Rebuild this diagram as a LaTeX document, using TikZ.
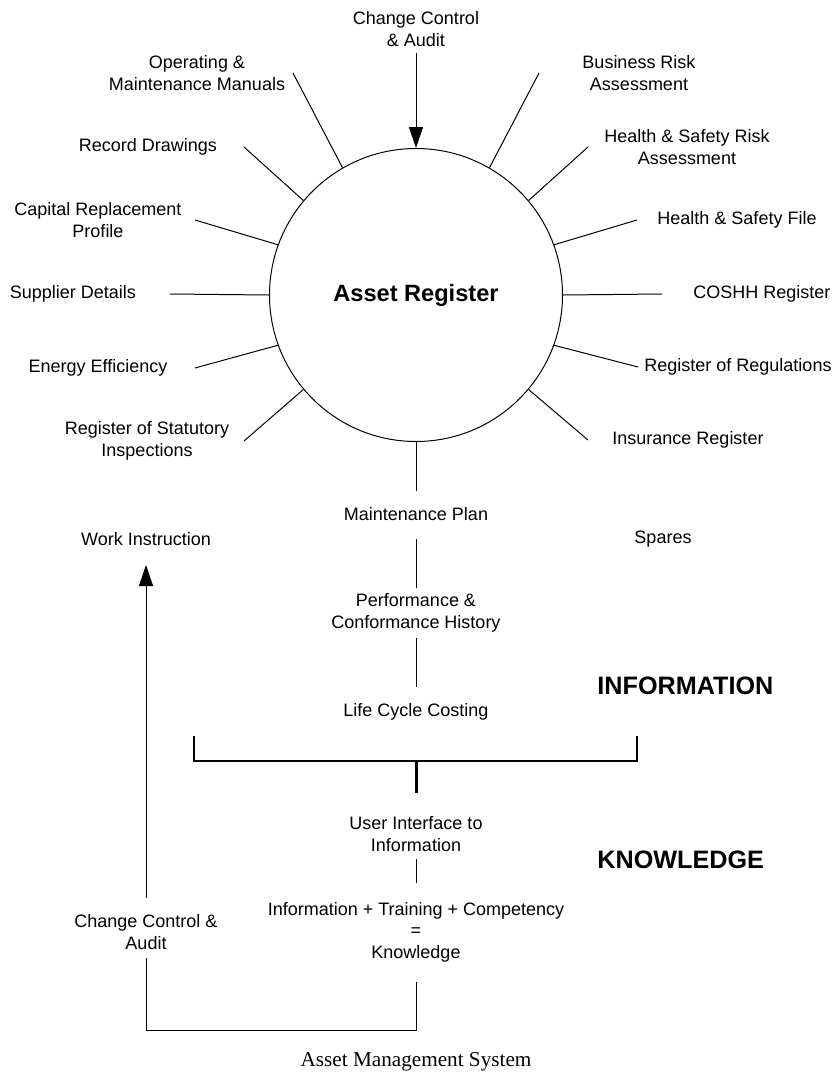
\documentclass[tikz,border=0pt]{standalone}
\usepackage{fontspec}
\setmainfont{Liberation Sans}
\newfontfamily\capfont{Liberation Serif}
\usetikzlibrary{arrows.meta}

\begin{document}
\begin{tikzpicture}[x=0.5pt,y=-0.5pt,
  lbl/.style={align=center,inner sep=0pt,font=\fontsize{9}{10.8}\selectfont},
  head/.style={anchor=west,inner sep=0pt,font=\fontsize{12.6}{14}\selectfont\bfseries},
  spoke/.style={line width=0.5pt},
  tip/.style={-{Triangle[width=7pt,length=10.5pt]}}]
\useasboundingbox (0,0) rectangle (832,1072);

\node[circle,draw,line width=0.5pt,minimum size=146.5pt,inner sep=0pt,
  font=\fontsize{11.8}{14}\selectfont\bfseries] (reg) at (416,295) {Asset Register};

\node[lbl] (cc) at (416,29) {Change Control\\\& Audit};

% left side
\node[lbl] (om) at (197,73) {Operating \&\\Maintenance Manuals};
\node[lbl] (rd) at (148,147) {Record Drawings};
\node[lbl] (crp) at (98,220) {Capital Replacement\\Profile};
\node[lbl] (sd) at (73,294) {Supplier Details};
\node[lbl] (ee) at (98,368) {Energy Efficiency};
\node[lbl] (rsi) at (147,441) {Register of Statutory\\Inspections};

% right side
\node[lbl] (bra) at (639,73) {Business Risk\\Assessment};
\node[lbl] (hsra) at (687,147) {Health \& Safety Risk\\Assessment};
\node[lbl] (hsf) at (737,220) {Health \& Safety File};
\node[lbl] (coshh) at (762,294) {COSHH Register};
\node[lbl] (ror) at (738,367) {Register of Regulations};
\node[lbl] (ir) at (688,440) {Insurance Register};

\coordinate (om-e) at (293,73);
\coordinate (rd-e) at (244,147);
\coordinate (crp-e) at (195,220);
\coordinate (sd-e) at (170,294);
\coordinate (ee-e) at (195,368);
\coordinate (rsi-e) at (244,441);
\coordinate (bra-e) at (539,73);
\coordinate (hsra-e) at (588,147);
\coordinate (hsf-e) at (637,220);
\coordinate (coshh-e) at (662,294);
\coordinate (ror-e) at (638,367);
\coordinate (ir-e) at (588,440);

\foreach \a/\e in {120/om-e,140/rd-e,160/crp-e,180/sd-e,200/ee-e,220/rsi-e,
  60/bra-e,40/hsra-e,20/hsf-e,0/coshh-e,-20/ror-e,-40/ir-e}
  \draw[spoke] (reg.\a) -- (\e);

\draw[spoke,tip,shorten <=12pt] (cc.center) -- (reg);

% information
\node[lbl] (mp) at (416,514) {Maintenance Plan};
\node[lbl] (wi) at (146,539) {Work Instruction};
\node[lbl] (sp) at (663,539) {Spares};
\node[lbl] (pch) at (416,613) {Performance \&\\Conformance History};
\node[lbl] (lcc) at (416,712) {Life Cycle Costing};
\node[head] (info) at (597,686) {INFORMATION};

\draw[spoke,shorten >=11.5pt] (reg) -- (mp.center);
\draw[spoke,shorten <=12.5pt,shorten >=12.5pt] (mp.center) -- (pch.center);
\draw[spoke,shorten <=12.5pt,shorten >=12.5pt] (pch.center) -- (lcc.center);

\coordinate (bl) at (194,736);
\coordinate (br) at (637,736);
\coordinate (bm) at (416,761);
\draw[line width=1pt] (bl) |- (bm) -| (br);

% knowledge
\node[lbl] (ui) at (416,834) {User Interface to\\Information};
\node[lbl] (kn) at (416,932) {Information + Training + Competency\\=\\Knowledge};
\node[head] (know) at (597,860) {KNOWLEDGE};
\node[lbl] (cca) at (146,932) {Change Control \&\\Audit};

\draw[line width=1.5pt,shorten >=20.5pt] (bm) -- (ui.center);
\draw[spoke,shorten <=12.5pt,shorten >=24.5pt] (ui.center) -- (kn.center);

\coordinate (lpr) at (416,1030);
\coordinate (lpl) at (146,1030);
\draw[spoke,shorten <=25pt,shorten >=13pt] (kn.center) -- (lpr) -- (lpl) -- (cca.center);
\draw[spoke,tip,shorten <=17pt,shorten >=13pt] (cca.center) -- (wi.center);

\node[font=\capfont\fontsize{10.6}{12}\selectfont,inner sep=0pt] (cap) at (416,1062) {Asset Management System};
\end{tikzpicture}
\end{document}
